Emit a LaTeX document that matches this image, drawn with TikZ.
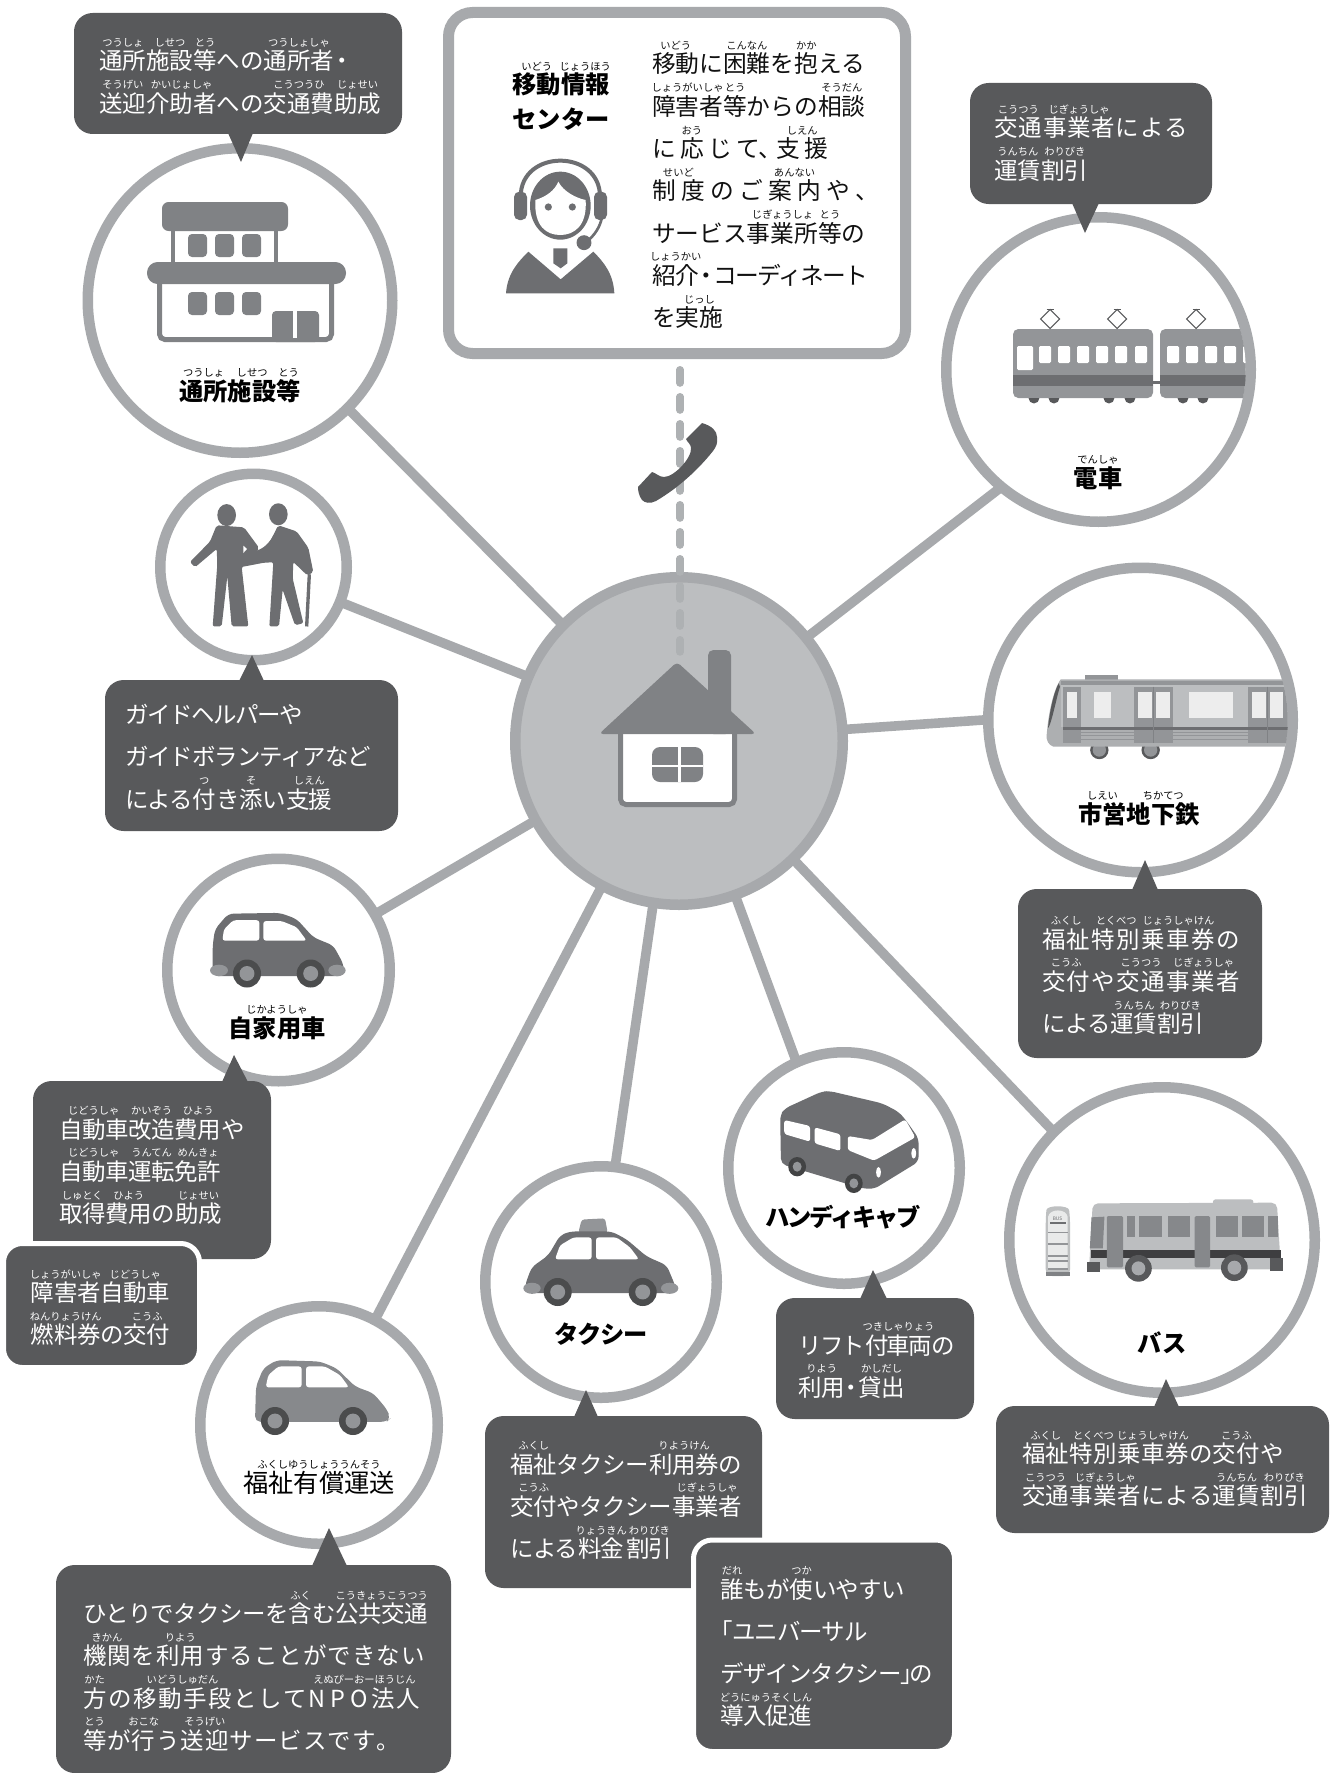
\documentclass[tikz,border=0pt]{standalone}
\usepackage{fontspec}
\newfontfamily\jp{Noto Sans CJK JP}
\usetikzlibrary{calc}
\pgfdeclarelayer{bg}\pgfsetlayers{bg,main}
\definecolor{bubc}{HTML}{58595B}
\definecolor{ringc}{HTML}{A7A9AC}
\definecolor{hubc}{HTML}{BCBEC0}
\definecolor{icon}{HTML}{808285}
\definecolor{icond}{HTML}{6D6E71}
\definecolor{iconl}{HTML}{939598}
\definecolor{dashc}{HTML}{AEB1B3}
\definecolor{inkc}{HTML}{111111}
\newdimen\pxu \pxu=0.75pt
\newdimen\gapd
\newcommand\g{\kern\gapd}
\newcommand\setg[1]{\gapd=#1\pxu}
\newbox\rbbox
\newcommand\rubyf{\jp\mdseries\fontsize{7.7}{9}\selectfont}
\newcommand\rb[2]{\setbox\rbbox\hbox{#1}\leavevmode\rlap{\smash{\raise23.5\pxu\hbox to\wd\rbbox{\hss\rubyf #2\hss}}}\box\rbbox}
\newcommand\ls[1]{\addfontfeature{LetterSpace=#1}}
\newcommand\mf{\jp\fontsize{17.6}{31.7}\selectfont}
\newcommand\tf{\jp\bfseries\fontsize{18.2}{31.7}\selectfont}
\tikzset{
  ring/.style={circle,draw=ringc,fill=white,line width=7.875pt,inner sep=0pt},
  conn/.style={draw=ringc,line width=7.2pt,shorten >=-3pt,shorten <=-3pt},
  bubs/.style={rectangle,fill=bubc,rounded corners=14pt,inner sep=0pt,outer sep=0pt},
  lines/.style={anchor=base west,inner sep=0pt,outer sep=0pt,font=\mf},
  wlines/.style={lines,text=white},
  klines/.style={lines,text=inkc},
  titlet/.style={anchor=base,inner sep=0pt,outer sep=0pt,font=\tf,text=black},
}
\newcommand\circn[4]{\node[ring,minimum size={2*(#4-5.25)*0.75pt}] (#1) at (#2,#3) {};}
\newcommand\bub[5]{\node[bubs,minimum width={(#4-#2)*0.75pt},minimum height={(#5-#3)*0.75pt}] (#1) at ({(#2+#4)/2},{(#3+#5)/2}) {};}
\newcommand\bubw[5]{\node[bubs,draw=white,line width=3.75pt,minimum width={(#4-#2+5)*0.75pt},minimum height={(#5-#3+5)*0.75pt}] (#1) at ({(#2+#4)/2},{(#3+#5)/2}) {};}
\newcommand\ptr[5]{\fill[bubc] (#1,#3) -- (#4,#5) -- (#2,#3) -- cycle;}
\begin{document}
\begin{tikzpicture}[x=0.75pt,y=-0.75pt]
\useasboundingbox (0,0) rectangle (1332,1773);
\begin{pgfonlayer}{bg}
\fill[white] (0,0) rectangle (1332,1773);
\end{pgfonlayer}

% ---------- circles and box
\node[rectangle,draw=ringc,fill=white,line width=8.25pt,rounded corners=18pt,inner sep=0pt,minimum width={457*0.75pt},minimum height={341*0.75pt}] (center) at (677,183) {};
\node[ring,fill=hubc,minimum size={2*(169-5.25)*0.75pt}] (hub) at (679,741) {};
\circn{shisetsu}{240}{300.5}{157.5}
\circn{train}{1098.5}{369.5}{157.5}
\circn{metro}{1140.5}{720}{157.5}
\circn{guide}{253.5}{567}{98.5}
\circn{own}{278.5}{970}{116.5}
\circn{welfare}{319}{1425}{124}
\circn{taxi}{601}{1282}{121}
\circn{handi}{844}{1168}{121}
\circn{bus}{1162}{1240}{158}

% ---------- connectors
\begin{pgfonlayer}{bg}
\draw[conn] (hub.135.5) -- (shisetsu.-45);
\draw[conn] (hub.39.5) -- (train.230);
\draw[conn] (hub.4.4) -- (metro.180);
\draw[conn] (hub.-46) -- (bus.135.5);
\draw[conn] (hub.-70) -- (handi.114.7);
\draw[conn] (hub.-99) -- (taxi.83);
\draw[conn] (hub.-118.7) -- (welfare.62.4);
\draw[conn] (hub.209.2) -- (own.30.7);
\draw[conn] (hub.157.8) -- (guide.-22.6);
\end{pgfonlayer}
\coordinate (dashA) at (680,369.75);
\coordinate (dashB) at (680,652);
\draw[dashc,line width=5.6pt,line cap=round,dash pattern=on 10pt off 10.25pt] (dashA) -- (dashB);

% ---------- phone
\fill[bubc] (702,423) .. controls (712,426) and (717,431) .. (717,437) .. controls (718,443) and (716,447) .. (713,451) .. controls (698,470) and (678,488) .. (656,501) .. controls (650,504) and (645,503) .. (642,500) .. controls (639,496) and (638,491) .. (638,487) -- (652,472) .. controls (656,473) and (659,477) .. (664,477) .. controls (674,477) and (692,458) .. (691,448) .. controls (691,444) and (687,442) .. (686,439) -- cycle;

% ---------- house
\draw[icon,fill=white,line width=3.75pt,rounded corners=4pt] (620.5,725) -- (620.5,804.5) -- (734.5,804.5) -- (734.5,725);
\fill[icon,rounded corners=4pt] (708,734) -- (708,650) -- (731,650) -- (731,734) -- cycle;
\fill[icon,rounded corners=3pt] (599,734) -- (677,662) -- (756,734) -- cycle;
\fill[icon,rounded corners=6pt] (652,747) rectangle (703,782);
\fill[white] (677.5,747) rectangle (680.5,782);
\fill[white] (652,765) rectangle (703,767);

% ---------- building
\begin{scope}
\draw[icon,line width=3.5pt] (173,231) -- (173,262) (276,231) -- (276,262);
\fill[icon,rounded corners=5pt] (162,202) rectangle (288,231);
\foreach \wx in {188,215,242}{
  \fill[icon,rounded corners=3pt] (\wx,234) rectangle ++(19,23);
  \fill[icon,rounded corners=3pt] (\wx,292) rectangle ++(19,23);
}
\draw[icon,line width=3.75pt,rounded corners=4pt] (159.5,275) -- (159.5,339.5) -- (331.5,339.5) -- (331.5,275);
\fill[icon,rounded corners=8pt] (147,262) rectangle (346,284);
\fill[icon,rounded corners=3pt] (272,342) -- (272,311) -- (319,311) -- (319,342) -- cycle;
\fill[white] (293,311) rectangle (297,338);
\end{scope}

% ---------- operator
\begin{scope}[shift={(430,0)},x=0.25pt,y=-0.25pt]
\fill[icond] (391,617) ellipse [x radius=91,y radius=102];
\fill[white] (316,600) .. controls (350,590) and (375,570) .. (385,545) .. controls (400,575) and (440,595) .. (467,600) .. controls (472,680) and (430,705) .. (391,705) .. controls (350,705) and (312,680) .. (316,600) -- cycle;
\draw[icond,line width=3pt] (272,590) .. controls (272,446) and (510,446) .. (510,590);
\fill[icond,rounded corners=4pt] (252,575) rectangle (291,660);
\fill[icond,rounded corners=4pt] (492,575) rectangle (531,660);
\draw[icond,line width=2pt] (515,655) .. controls (510,680) and (495,705) .. (470,725);
\fill[icond] (462,728) circle [radius=5.6pt];
\fill[icond] (355,621) circle [radius=2.7pt];
\fill[icond] (427,621) circle [radius=2.7pt];
\fill[icond] (228,880) .. controls (232,820) and (265,785) .. (295,755) -- (392,838) -- (490,755) .. controls (520,785) and (550,820) .. (553,880) -- cycle;
\fill[icond] (370,745) -- (412,745) -- (412,790) -- (392,805) -- (370,790) -- cycle;
\end{scope}

% ---------- electric train
\begin{scope}
\clip (1098.5,369.5) circle [radius=110.4pt];
\foreach \cx/\cw in {1013/140,1160/100}{
  \fill[iconl,rounded corners=4pt] (\cx,329) rectangle ++(\cw,69);
  \fill[icond] (\cx,375) rectangle ++(\cw,11);
}
\fill[icond] (1153,381) rectangle (1160,384);
\fill[white,rounded corners=1pt] (1017,346) rectangle (1033,370);
\foreach \wx in {1039,1058,1077,1096,1115,1135,1167,1186,1205,1224,1243}{
  \fill[white,rounded corners=1pt] (\wx,346) rectangle ++(12,17);
}
\foreach \wx in {1034,1054,1109,1130,1183,1203}{
  \fill[bubc] (\wx-5.5,398) arc[start angle=180,end angle=360,radius=4.1pt] -- cycle;
}
\foreach \px in {1050,1117,1196}{
  \draw[bubc,fill=white,line width=0.8pt] (\px-9.5,319) -- (\px,309.5) -- (\px+9.5,319) -- (\px,328.5) -- cycle;
  \draw[bubc,line width=0.9pt] (\px-3.5,309.5) -- (\px+3.5,309.5);
}
\end{scope}

% ---------- metro
\begin{scope}
\clip (1140.5,720) circle [radius=110.4pt];
\begin{scope}[shift={(940,550)},x=0.25pt,y=-0.25pt]
\fill[iconl] (435,375) rectangle (535,395);
\foreach \wh in {478,632}{
  \fill[bubc] (\wh,600) circle [radius=6.9pt];
  \fill[iconl] (\wh,600) circle [radius=5pt];
}
\fill[hubc!92!black] (362,388) -- (1100,388) -- (1100,590) -- (340,590) .. controls (325,585) and (318,570) .. (320,555) .. controls (325,490) and (340,420) .. (362,388) -- cycle;
\fill[bubc] (356,400) .. controls (340,430) and (328,490) .. (324,535) .. controls (335,520) and (350,440) .. (360,410) -- cycle;
\fill[iconl] (362,392) rectangle (1100,405);
\fill[hubc] (362,405) rectangle (1100,530);
\fill[icond] (370,530) rectangle (1100,540);
\foreach \sy in {547,557,567}{\draw[iconl,line width=0.5pt] (370,\sy) -- (1100,\sy);}
\fill[iconl] (370,410) rectangle (422,580);
\fill[iconl] (583,410) rectangle (700,580);
\fill[iconl] (925,410) rectangle (1100,580);
\fill[icond] (370,530) rectangle (422,540);
\fill[icond] (583,530) rectangle (700,540);
\fill[icond] (925,530) rectangle (1100,540);
\draw[icon,line width=0.7pt] (641,410) -- (641,580) (983,410) -- (983,580);
\foreach \wa/\wb in {382/412,462/512,595/635,648/690,747/878,937/977,990/1030}{
  \fill[white!93!black] (\wa,425) rectangle (\wb,503);
}
\end{scope}
\end{scope}

% ---------- guide figures
\begin{scope}[shift={(100,460)},x=0.25pt,y=-0.306pt]
\fill[icond] (380,135) ellipse [x radius=28,y radius=27];
\fill[icond] (535,133) ellipse [x radius=28,y radius=27];
\fill[icond,rounded corners=1.5pt] (350,160) -- (432,165) -- (477,215) -- (470,225) -- (425,262) -- (445,408) -- (395,408) -- (382,285) -- (365,408) -- (338,408) -- (352,255) -- (350,218) -- (285,263) -- (270,250) -- (330,200) -- cycle;
\fill[icond,rounded corners=1.5pt] (535,160) -- (590,175) -- (625,215) -- (640,275) -- (622,283) -- (580,250) -- (578,290) -- (610,400) -- (585,405) -- (548,318) -- (537,408) -- (508,408) -- (520,250) -- (500,245) -- (475,232) -- (510,200) -- cycle;
\fill[icond] (470,222) .. controls (500,215) and (520,190) .. (532,165) -- (530,250) -- (490,252) -- (426,262) -- (426,240) -- cycle;
\fill[white] (430,210) -- (441,218) -- (430,228) -- cycle;
\draw[icond,line width=2.5pt] (628,280) -- (620,408);
\end{scope}

% ---------- private car
\begin{scope}[shift={(100,460)},x=0.25pt,y=-0.306pt]
\fill[icond,rounded corners=4pt] (338,1265) -- (338,1190) -- (345,1150) -- (385,1112) -- (540,1110) -- (590,1125) -- (640,1170) -- (700,1190) -- (730,1235) -- (733,1265) -- cycle;
\fill[white,rounded corners=2pt] (367,1178) -- (372,1150) -- (400,1128) -- (478,1128) -- (478,1178) -- cycle;
\fill[white,rounded corners=2pt] (490,1178) -- (490,1130) -- (545,1130) -- (590,1145) -- (620,1178) -- cycle;
\fill[iconl] (357,1251) ellipse [x radius=27,y radius=14];
\fill[iconl] (711,1251) ellipse [x radius=26,y radius=14];
\end{scope}
\foreach \wx in {247,310.7}{
  \fill[bubc!85!black] (\wx,973.5) circle [radius=10.5pt];
  \fill[iconl] (\wx,973.5) circle [radius=5.6pt];
}

% ---------- welfare car
\begin{scope}[shift={(0,1060)},x=0.25pt,y=-0.34pt]
\fill[iconl!92!black,rounded corners=4pt] (765,798) -- (768,720) -- (790,680) -- (830,662) -- (960,665) -- (1010,680) -- (1065,720) -- (1120,735) -- (1160,770) -- (1172,790) -- (1160,798) -- cycle;
\fill[white,rounded corners=2pt] (797,722) -- (805,695) -- (835,676) -- (905,676) -- (905,722) -- cycle;
\fill[white,rounded corners=2pt] (918,722) -- (918,676) -- (975,676) -- (1020,695) -- (1047,722) -- cycle;
\end{scope}
\foreach \wx in {275,353}{
  \fill[bubc!85!black] (\wx,1421) circle [radius=10.5pt];
  \fill[iconl] (\wx,1421) circle [radius=5.6pt];
}

% ---------- taxi
\begin{scope}[shift={(470,1150)},x=0.25pt,y=-0.298pt]
\fill[iconl,rounded corners=2pt] (325,208) -- (335,175) -- (405,172) -- (413,208) -- cycle;
\fill[icond,rounded corners=4pt] (170,360) -- (165,340) -- (185,295) -- (235,265) -- (270,215) -- (300,205) -- (425,205) -- (470,225) -- (530,268) -- (590,290) -- (615,340) -- (620,360) -- cycle;
\fill[white,rounded corners=2pt] (255,275) -- (270,240) -- (310,220) -- (365,220) -- (365,275) -- cycle;
\fill[white,rounded corners=2pt] (378,275) -- (378,220) -- (440,220) -- (480,245) -- (507,275) -- cycle;
\fill[iconl] (186,348) ellipse [x radius=26,y radius=14];
\fill[iconl] (599,348) ellipse [x radius=26,y radius=14];
\end{scope}
\foreach \wx in {557.7,642.7}{
  \fill[bubc!85!black] (\wx,1292) circle [radius=10.5pt];
  \fill[iconl] (\wx,1292) circle [radius=5.6pt];
}

% ---------- handicab
\begin{scope}[shift={(700,1040)},x=0.3036pt,y=-0.25pt]
\fill[icond,rounded corners=4pt] (198,225) -- (210,205) -- (300,155) -- (320,153) -- (450,190) -- (490,215) -- (507,238) -- (540,295) -- (540,365) -- (430,447) -- (400,445) -- (200,372) -- cycle;
\fill[white,rounded corners=2pt] (208,240) -- (272,258) -- (272,305) -- (208,282) -- cycle;
\fill[white,rounded corners=2pt] (283,262) -- (347,283) -- (347,333) -- (283,310) -- cycle;
\fill[white,rounded corners=2pt] (365,288) -- (425,300) -- (507,238) -- (532,292) -- (430,362) -- (365,330) -- cycle;
\fill[white] (528,340) ellipse [x radius=6,y radius=16];
\fill[white] (441,397) ellipse [x radius=6,y radius=16];
\fill[bubc!75!black] (240,380) ellipse [x radius=22,y radius=29];
\fill[iconl] (240,380) ellipse [x radius=11,y radius=15];
\fill[bubc!75!black] (380,430) ellipse [x radius=22,y radius=29];
\fill[iconl] (380,430) ellipse [x radius=11,y radius=15];
\end{scope}

% ---------- bus
\begin{scope}[shift={(698,1040)},x=0.3036pt,y=-0.25pt]
\fill[hubc,rounded corners=2pt] (1272,495) -- (1272,478) -- (1372,478) -- (1372,495) -- cycle;
\fill[hubc,rounded corners=4pt] (966,688) -- (975,490) -- (1430,488) -- (1440,688) -- cycle;
\fill[iconl!90!black] (972,532) -- (1004,530) -- (1000,625) -- (968,625) -- cycle;
\foreach \wa/\wb in {1060/1080,1090/1145,1160/1215,1280/1333,1345/1398,1408/1432}{
  \fill[icon!95!white] (\wa,528) rectangle (\wb,592);
}
\fill[bubc!70!black] (970,630) rectangle (1440,655);
\fill[icon!95!white,rounded corners=1pt] (1010,528) rectangle (1050,682);
\fill[icon!95!white,rounded corners=1pt] (1227,528) rectangle (1265,682);
\fill[bubc] (962,665) rectangle (992,695);
\fill[bubc] (1412,655) rectangle (1445,692);
\foreach \wh/\wv in {1088/685,1325/683}{
  \fill[bubc] (\wh,\wv) ellipse [x radius=33,y radius=40];
  \fill[ringc] (\wh,\wv) ellipse [x radius=17,y radius=21];
}
% bus stop
\fill[iconl!60!white,rounded corners=5pt] (859,708) -- (859,530) .. controls (862,495) and (915,495) .. (919,530) -- (919,708) -- cycle;
\fill[iconl!20!white] (865,690) -- (865,530) .. controls (868,505) and (910,505) .. (913,530) -- (913,690) -- cycle;
\node[inner sep=0pt,font=\jp\fontsize{3.6}{4}\selectfont,text=icond] (stoplabel) at (888,535) {BUS};
\fill[icond] (870,545) rectangle (908,552);
\foreach \sy in {575,610,645,660,685}{\fill[iconl] (865,\sy) rectangle (913,\sy+5);}
\fill[icon] (859,695) rectangle (919,707);
\end{scope}

% ---------- callouts
\bub{b1}{74}{13}{402}{134}
\ptr{228}{253}{133}{241}{162}
\bub{b2}{970}{83}{1212}{204}
\ptr{1072}{1099}{203}{1085}{233}
\bub{b3}{1018}{889}{1262}{1058}
\ptr{1132}{1158}{890}{1145}{860}
\bub{b4}{105}{680}{398}{831}
\ptr{239}{264}{681}{252}{655}
\bub{b5}{33}{1081}{271}{1259}
\ptr{222}{248}{1082}{234}{1055}
\bubw{b6}{6}{1246}{197}{1365}
\bub{b7}{56}{1565}{451}{1773}
\ptr{312}{347}{1566}{329}{1528}
\bub{b8}{485}{1416}{762}{1588}
\ptr{574}{598}{1417}{586}{1390}
\bubw{b9}{696}{1542.5}{952}{1749}
\bub{b10}{776}{1298}{974}{1419}
\ptr{860}{887}{1299}{873}{1270}
\bub{b11}{996}{1406}{1329}{1533}
\ptr{1154}{1179}{1407}{1166}{1379}

% ---------- titles
\node[titlet] (t1) at (240,400) {\rb{通所}{つうしょ}\rb{施設}{しせつ}\rb{等}{とう}};
\node[titlet] (t2) at (1098,487) {\rb{電車}{でんしゃ}};
\node[titlet] (t3) at (1139,823) {\rb{市営}{しえい}\rb{地下鉄}{ちかてつ}};
\node[titlet] (t4) at (277,1037) {\rb{自家用車}{じかようしゃ}};
\node[titlet,font=\jp\fontsize{19}{31}\selectfont] (t5) at (319,1492) {\rb{福祉有償運送}{ふくしゆうしょううんそう}};
\node[titlet] (t6) at (601,1343) {\ls{-6}タクシー};
\node[titlet] (t7) at (843,1226) {\ls{-9}ハンディキャブ};
\node[titlet] (t8) at (1162,1352.5) {バス};
\node[titlet] (t9) at (561,94) {\rb{移動}{いどう}\rb{情報}{じょうほう}};
\node[titlet] (t10) at (561,128.5) {センター};

% ---------- callout texts
\node[wlines] (x1) at (99.5,70) {\vtop{%
\hbox{\rb{通所}{つうしょ}\rb{施設}{しせつ}\rb{等}{とう}への\rb{通所者}{つうしょしゃ}\kern-4\pxu ・}%
\hbox{\rb{送迎}{そうげい}\rb{介助者}{かいじょしゃ}への\rb{交通費}{こうつうひ}\rb{助成}{じょせい}}}};
\node[wlines] (x2) at (994.5,137) {\setg{0.8}\vtop{%
\hbox{\rb{交\g 通}{こうつう}\g\rb{事\g 業\g 者}{じぎょうしゃ}\g に\g よ\g る}%
\hbox{\rb{運賃}{うんちん}\rb{割引}{わりびき}}}};
\node[wlines] (x3) at (1042,948) {\setg{1.5}\vtop{%
\hbox{\rb{福\g 祉}{ふくし}\g\rb{特\g 別}{とくべつ}\g\rb{乗\g 車\g 券}{じょうしゃけん}\g の}%
\hbox{\rb{交\g 付}{こうふ}\g や\g\rb{交\g 通}{こうつう}\g\rb{事\g 業\g 者}{じぎょうしゃ}}%
\hbox{\ls{-2}による\rb{運賃}{うんちん}\rb{割引}{わりびき}}}};
\node[wlines] (x4) at (125,723.5) {\vtop{%
\hbox{\ls{-6}ガイドヘルパーや}%
\hbox{\ls{-4.5}ガイドボランティアなど}%
\hbox{\ls{-4.5}による\rb{付}{つ}き\rb{添}{そ}い\rb{支援}{しえん}}}};
\node[wlines] (x5) at (59,1138) {\vtop{%
\hbox{\ls{-2}\rb{自動車}{じどうしゃ}\rb{改造}{かいぞう}\rb{費用}{ひよう}や}%
\hbox{\ls{-2}\rb{自動車}{じどうしゃ}\rb{運転}{うんてん}\rb{免許}{めんきょ}}%
\hbox{\ls{-2}\rb{取得}{しゅとく}\rb{費用}{ひよう}の\rb{助成}{じょせい}}}};
\node[wlines] (x6) at (31,1301.5) {\vtop{%
\hbox{\ls{-2}\rb{障害者}{しょうがいしゃ}\rb{自動車}{じどうしゃ}}%
\hbox{\ls{-2}\rb{燃料券}{ねんりょうけん}の\rb{交付}{こうふ}}}};
\node[wlines] (x7) at (83,1622.5) {\vtop{%
\hbox{\ls{-2.5}ひとりでタクシーを\rb{含}{ふく}む\rb{公共交通}{こうきょうこうつう}}%
\hbox{\setg{1}\rb{機\g 関}{きかん}\g を\g\rb{利\g 用}{りよう}\g す\g る\g こ\g と\g が\g で\g き\g な\g い}%
\hbox{\setg{1.6}\rb{方}{かた}\g の\g\rb{移\g 動\g 手\g 段}{いどうしゅだん}\g と\g し\g て\g\rb{N\kern5\pxu P\kern5\pxu O\kern4\pxu 法\g 人}{えぬぴーおーほうじん}}%
\hbox{\setg{1}\rb{等}{とう}\g が\g\rb{行}{おこな}\g う\g\rb{送\g 迎}{そうげい}\g サ\g ー\g ビ\g ス\g で\g す\g 。}}};
\node[wlines] (x8) at (510.5,1473) {\vtop{%
\hbox{\ls{-2}\rb{福祉}{ふくし}タクシー\rb{利用券}{りようけん}の}%
\hbox{\ls{-2}\rb{交付}{こうふ}やタクシー\rb{事業者}{じぎょうしゃ}}%
\hbox{\ls{-4}による\rb{料金}{りょうきん}\kern2\pxu\rb{割引}{わりびき}}}};
\node[wlines] (x9) at (720.5,1598) {\vtop{%
\hbox{\ls{-4}\rb{誰}{だれ}もが\rb{使}{つか}いやすい}%
\hbox{\ls{-4}\kern-11\pxu 「ユニバーサル}%
\hbox{\ls{-4}デザインタクシー」\kern-15\pxu の}%
\hbox{\ls{-4}\rb{導入促進}{どうにゅうそくしん}}}};
\node[wlines] (x10) at (798.5,1354) {\vtop{%
\hbox{\ls{-8}リフト\rb{付車両}{つきしゃりょう}の}%
\hbox{\ls{-2}\rb{利用}{りよう}\kern-5\pxu ・\kern-5\pxu\rb{貸出}{かしだし}}}};
\node[wlines] (x11) at (1022,1462.5) {\setg{0.4}\vtop{%
\hbox{\rb{福\g 祉}{ふくし}\g\rb{特\g 別}{とくべつ}\g\rb{乗\g 車\g 券}{じょうしゃけん}\g の\g\rb{交\g 付}{こうふ}\g や}%
\hbox{\rb{交\g 通}{こうつう}\g\rb{事\g 業\g 者}{じぎょうしゃ}\g に\g よ\g る\g\rb{運\g 賃}{うんちん}\g\rb{割\g 引}{わりびき}}}};

% ---------- centre box text
\node[klines,font=\jp\fontsize{17.8}{31.7}\selectfont] (x12) at (652,73) {\vtop{%
\hbox{\rb{移動}{いどう}に\rb{困難}{こんなん}を\rb{抱}{かか}える}%
\hbox{\rb{障害者}{しょうがいしゃ}\rb{等}{とう}からの\rb{相談}{そうだん}}%
\hbox{\setg{4.3}に\g\rb{応}{おう}\g じ\g て、\kern-6\pxu\rb{支\g 援}{しえん}}%
\hbox{\setg{5.3}\rb{制\g 度}{せいど}\g の\g ご\g\rb{案\g 内}{あんない}\g や\g 、}%
\hbox{サービス\rb{事業所}{じぎょうしょ}\rb{等}{とう}の}%
\hbox{\rb{紹介}{しょうかい}\kern-5\pxu ・\kern-5\pxu{\ls{-6.5}コーディネート}}%
\hbox{を\rb{実施}{じっし}}}};
\end{tikzpicture}
\end{document}
